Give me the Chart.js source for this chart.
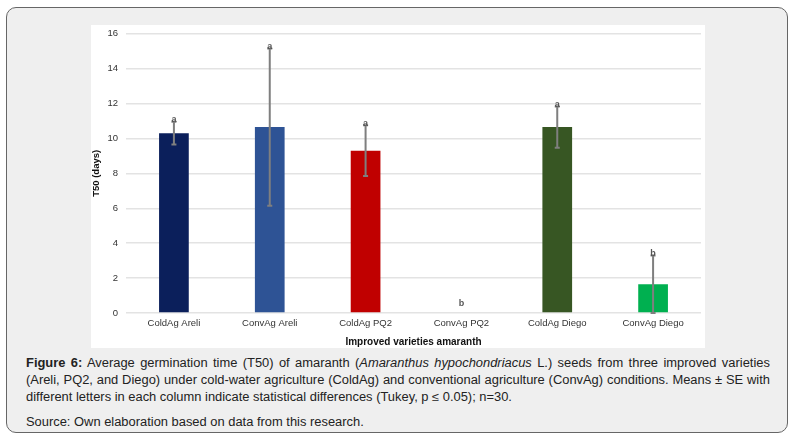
<!DOCTYPE html>
<html>
<head>
<meta charset="utf-8">
<script src="https://cdn.jsdelivr.net/npm/chart.js@4.4.0/dist/chart.umd.min.js"></script>
<style>
  html, body { margin: 0; padding: 0; background: #ffffff; }
  body { width: 797px; height: 441px; position: relative; overflow: hidden; font-family: "Liberation Sans", Arial, sans-serif; }
  #panel {
    position: absolute; left: 6px; top: 7px; width: 780px; height: 424px;
    background: #efefef; border: 1px solid #666; border-radius: 10px;
  }
  #chartBox { position: absolute; left: 84px; top: 17px; width: 614px; height: 323px; background: #fff; }
  #chartWrap { position: absolute; left: 0; top: -5px; width: 614px; height: 328px; }
  #caption { position: absolute; left: 19px; top: 347px; width: 692px; font-size: 12px; line-height: 17px; color: #222; transform: scaleX(1.075); transform-origin: left top; }
  #caption p { margin: 0; white-space: nowrap; }
  #caption p.just { text-align: justify; text-align-last: justify; }
  #source { margin-top: 8px !important; }
</style>
</head>
<body>
<div id="panel">
  <div id="chartBox"><div id="chartWrap"><canvas id="t50Chart"></canvas></div></div>
  <div id="caption">
    <p class="just"><b>Figure 6:</b> Average germination time (T50) of amaranth (<i>Amaranthus hypochondriacus</i> L.) seeds from three improved varieties</p>
    <p class="just">(Areli, PQ2, and Diego) under cold-water agriculture (ColdAg) and conventional agriculture (ConvAg) conditions. Means ± SE with</p>
    <p>different letters in each column indicate statistical differences (Tukey, p ≤ 0.05); n=30.</p>
    <p id="source">Source: Own elaboration based on data from this research.</p>
  </div>
</div>
<script>
// Data
const categories = ['ColdAg Areli', 'ConvAg Areli', 'ColdAg PQ2', 'ConvAg PQ2', 'ColdAg Diego', 'ConvAg Diego'];
const t50Means = [10.3, 10.65, 9.3, 0, 10.65, 1.65];
const t50Errors = [0.65, 4.5, 1.45, 0, 1.18, 1.65];
const tukeyLetters = ['a', 'a', 'a', 'b', 'a', 'b'];
const barColors = ['#0b1f5b', '#2e5395', '#c00000', '#ffffff', '#375623', '#00b050'];
const yTicks = [0, 2, 4, 6, 8, 10, 12, 14, 16];

// Error bars + letters
const errorBarPlugin = {
  id: 'errorBars',
  afterDatasetsDraw(chart) {
    const ctx = chart.ctx;
    const meta = chart.getDatasetMeta(0);
    const y = chart.scales.y;
    ctx.save();
    meta.data.forEach((bar, i) => {
      const x = bar.x;
      const top = y.getPixelForValue(t50Means[i] + t50Errors[i]);
      const bottom = y.getPixelForValue(Math.max(0, t50Means[i] - t50Errors[i]));
      if (t50Errors[i] > 0) {
        ctx.strokeStyle = '#7f7f7f';
        ctx.lineWidth = 2;
        ctx.beginPath();
        ctx.moveTo(x, top); ctx.lineTo(x, bottom);
        ctx.moveTo(x - 2.5, top); ctx.lineTo(x + 2.5, top);
        ctx.moveTo(x - 2.5, bottom); ctx.lineTo(x + 2.5, bottom);
        ctx.stroke();
      }
      ctx.fillStyle = '#555';
      ctx.font = 'bold 9px "Liberation Sans", Arial';
      ctx.textAlign = 'center';
      ctx.textBaseline = 'middle';
      const gap = t50Errors[i] > 0 ? 2 : 9;
      ctx.fillText(tukeyLetters[i], x, top - gap);
    });
    ctx.restore();
  }
};

const ctx = document.getElementById('t50Chart').getContext('2d');
const t50Chart = new Chart(ctx, {
  type: 'bar',
  data: {
    labels: categories,
    datasets: [{
      label: 'T50 (days)',
      data: t50Means,
      backgroundColor: barColors,
      categoryPercentage: 1,
      barPercentage: 0.31,
    }]
  },
  options: {
    responsive: true,
    maintainAspectRatio: false,
    animation: false,
    layout: { padding: { top: 0, right: 4, left: 0, bottom: 0 } },
    plugins: { legend: { display: false }, tooltip: { enabled: false } },
    scales: {
      x: {
        grid: { display: false, drawTicks: false },
        border: { display: false },
        ticks: { color: '#333', font: { family: 'Liberation Sans', size: 9.5 }, padding: 5, maxRotation: 0 },
        title: { display: true, text: 'Improved varieties amaranth', color: '#111', font: { family: 'Liberation Sans', size: 10, weight: 'bold' }, padding: { top: 5, bottom: 0 } },
        afterFit(scale) { scale.height = 35; }
      },
      y: {
        min: 0,
        max: 16,
        afterBuildTicks(scale) { scale.ticks = yTicks.map(v => ({ value: v })); },
        grid: { color: '#e3e3e3', lineWidth: 1.5, drawTicks: false },
        border: { display: false },
        ticks: { color: '#333', font: { family: 'Liberation Sans', size: 9.5 }, padding: 8 },
        title: { display: true, text: 'T50 (days)', color: '#111', font: { family: 'Liberation Sans', size: 9.5, weight: 'bold' }, padding: 0 },
        afterFit(scale) { scale.width = 35; }
      }
    }
  },
  plugins: [errorBarPlugin]
});
</script>
</body>
</html>
